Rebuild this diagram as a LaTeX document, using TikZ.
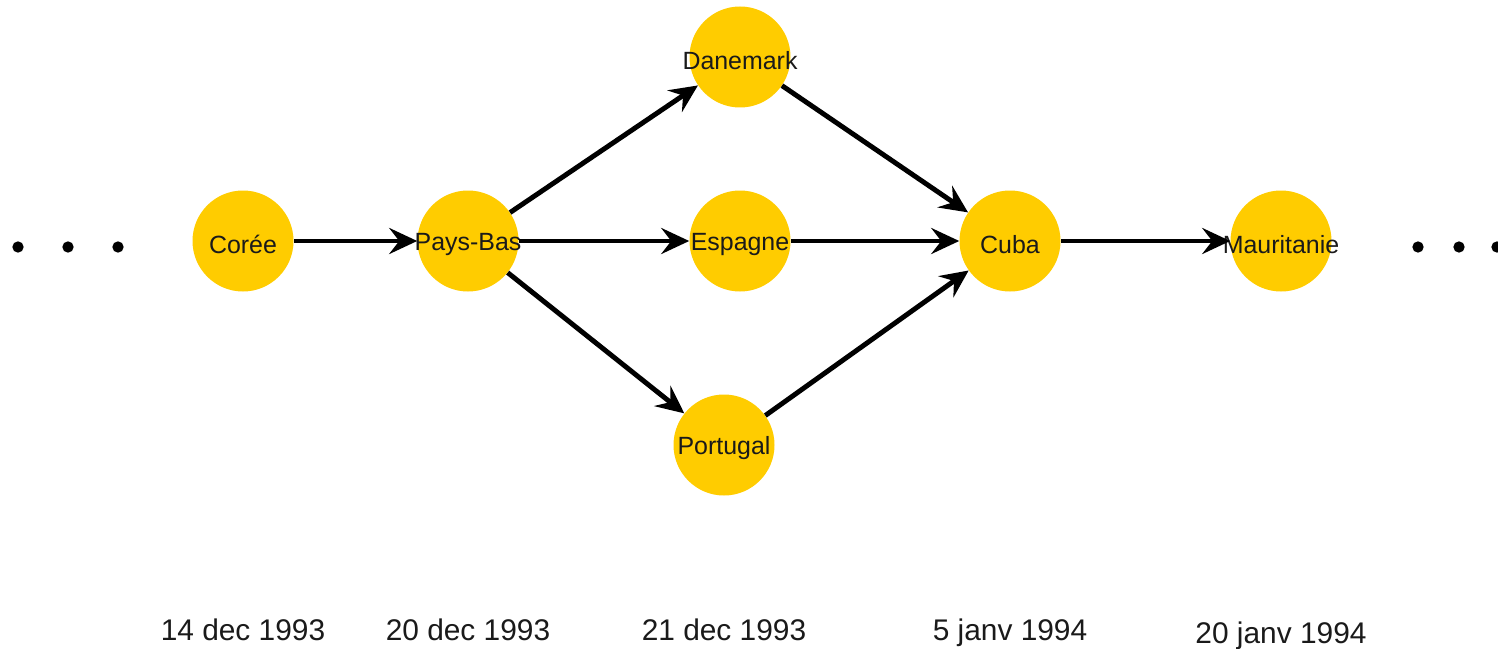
\documentclass[tikz,border=0pt]{standalone}
\usepackage{fontspec}
\setmainfont{Liberation Sans}
\usetikzlibrary{arrows.meta}
\definecolor{nodeyellow}{HTML}{FFCC00}
\definecolor{txtdark}{HTML}{1A1A1A}
\newcommand{\ctext}[1]{\makebox[0pt]{\raisebox{-2.4pt}[\height][\depth]{#1}}}
\begin{document}
\begin{tikzpicture}[x=0.75pt,y=-0.75pt,
  country/.style={circle,fill=nodeyellow,minimum size=75.75pt,inner sep=0pt,
    font=\fontsize{18.7pt}{20pt}\selectfont,text=txtdark},
  conn/.style={line width=3.7pt,-{Stealth[length=21pt,width=19.5pt,inset=7.5pt]}},
  dotnode/.style={circle,fill=black,minimum size=8.5pt,inner sep=0pt},
  datelbl/.style={font=\fontsize{22.4pt}{24pt}\selectfont,anchor=base,text=txtdark,inner sep=0pt}]
\useasboundingbox (0,0) rectangle (1498,649);

% dots
\node[dotnode] (l1) at (18,247) {};
\node[dotnode] (l2) at (68,247) {};
\node[dotnode] (l3) at (118,247) {};
\node[dotnode] (r1) at (1418,247) {};
\node[dotnode] (r2) at (1459,247) {};
\node[dotnode] (r3) at (1497,247) {};

% countries
\node[country] (coree) at (243,241) {\ctext{Corée}};
\node[country] (pays) at (468,241) {\ctext{Pays-Bas}};
\node[country] (dan) at (740,57) {\ctext{Danemark}};
\node[country] (esp) at (740,241) {\ctext{Espagne}};
\node[country] (por) at (724,445) {\ctext{Portugal}};
\node[country] (cuba) at (1010,241) {\ctext{Cuba}};
\node[country] (maur) at (1281,241) {\ctext{Mauritanie}};

% connectors
\draw[conn] (coree) -- (pays);
\draw[conn] (pays) -- (dan);
\draw[conn] (pays) -- (esp);
\draw[conn] (pays) -- (por);
\draw[conn] (dan) -- (cuba);
\draw[conn] (esp) -- (cuba);
\draw[conn] (por) -- (cuba);
\draw[conn] (cuba) -- (maur);

% dates
\node[datelbl] (d1) at (243,640) {14 dec 1993};
\node[datelbl] (d2) at (468,640) {20 dec 1993};
\node[datelbl] (d3) at (724,640) {21 dec 1993};
\node[datelbl] (d4) at (1010,640) {5 janv 1994};
\node[datelbl] (d5) at (1281,643) {20 janv 1994};
\end{tikzpicture}
\end{document}
